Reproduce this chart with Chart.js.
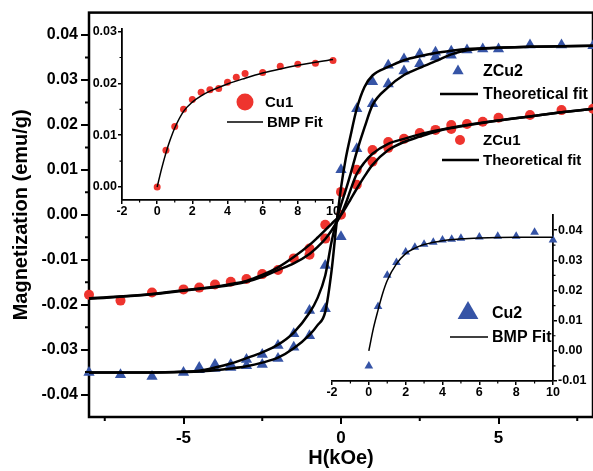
<!DOCTYPE html>
<html>
<head>
<meta charset="utf-8">
<script src="https://cdn.jsdelivr.net/npm/chart.js@4.4.0/dist/chart.umd.min.js"></script>
<style>
  html, body { margin: 0; padding: 0; background: #fff; overflow: hidden; }
  #wrap { position: relative; width: 593px; height: 471px; overflow: hidden; }
  canvas { position: absolute; }
  #main { left: 0; top: 0; }
  #inset1 { left: 85px; top: 18px; }
  #inset2 { left: 318px; top: 205px; }
</style>
</head>
<body>
<div id="wrap">
  <canvas id="main" width="600" height="471"></canvas>
  <canvas id="inset1" width="262" height="202"></canvas>
  <canvas id="inset2" width="275" height="197"></canvas>
</div>
<script>
// main panel: measured points
const zcu2H = [-8, -7, -6, -5, -4.5, -4.5, -4, -4, -3.5, -3.5, -3, -3, -2.5, -2.5, -2, -2, -1.5, -1.5, -1, -1,
  -0.5, -0.5, 0, 0, 0.5, 0.5, 1, 1, 1.5, 1.5, 2, 2, 2.5, 2.5, 3, 3, 3.5, 3.5, 4, 4.5, 5, 6, 7, 8];
const zcu2M = [-0.0351, -0.0356, -0.0360, -0.0351, -0.0340, -0.0345, -0.0333, -0.0342, -0.0333, -0.0340,
  -0.0322, -0.0336, -0.0311, -0.0333, -0.0291, -0.0320, -0.0265, -0.0295, -0.0213, -0.0269,
  -0.0113, -0.0209, -0.0049, 0.0100, 0.0147, 0.0236, 0.0247, 0.0296, 0.0291, 0.0333,
  0.0320, 0.0347, 0.0336, 0.0358, 0.0351, 0.0362, 0.0355, 0.0364, 0.0367, 0.0369, 0.0369, 0.0378, 0.0378, 0.0376];
const zcu1H = [-8, -7, -6, -5, -4.5, -4, -3.5, -3, -2.5, -2, -1.5, -1, -1, -0.5, -0.5, 0, 0, 0.5, 0.5, 1, 1,
  1.5, 1.5, 2, 2.5, 3, 3.5, 3.5, 4, 4.5, 5, 6, 7, 8];
const zcu1M = [-0.0178, -0.0191, -0.0173, -0.0166, -0.0162, -0.0155, -0.0149, -0.0143, -0.0132, -0.0123, -0.0097,
  -0.0075, -0.0089, -0.0022, -0.0053, 0.0000, 0.0051, 0.0100, 0.0067, 0.0144, 0.0118, 0.0162, 0.0149,
  0.0169, 0.0182, 0.0189, 0.0191, 0.0200, 0.0202, 0.0207, 0.0216, 0.0222, 0.0233, 0.0236];

// main panel: theoretical fit curves (two branches each)
const fitH = [-8, -6, -5, -4.5, -4, -3.5, -3, -2.5, -2, -1.5, -1, -0.75, -0.5, -0.3, -0.15, 0,
  0.15, 0.3, 0.5, 0.75, 1, 1.5, 2, 2.5, 3, 3.5, 4, 5, 6, 7, 8];
const zcu2FitA = [-0.0351, -0.0351, -0.0350, -0.0349, -0.0346, -0.0342, -0.0337, -0.0329, -0.0318, -0.0297,
  -0.0267, -0.0246, -0.0216, -0.0125, -0.0025, 0.0060,
  0.0125, 0.0175, 0.0236, 0.0285, 0.0310, 0.0329, 0.0344, 0.0353, 0.0360, 0.0365, 0.0369, 0.0372, 0.0374, 0.0375, 0.0376];
const zcu2FitB = [-0.0351, -0.0351, -0.0349, -0.0347, -0.0340, -0.0331, -0.0319, -0.0306, -0.0289, -0.0262,
  -0.0218, -0.0186, -0.0135, -0.0060, -0.0015, 0.0022,
  0.0055, 0.0090, 0.0140, 0.0195, 0.0244, 0.0284, 0.0311, 0.0327, 0.0342, 0.0357, 0.0366, 0.0372, 0.0374, 0.0375, 0.0376];
const zcu1FitA = [-0.0187, -0.0177, -0.0169, -0.0165, -0.0161, -0.0156, -0.0149, -0.0138, -0.0123, -0.0108,
  -0.0087, -0.0072, -0.0054, -0.0035, -0.0018, 0,
  0.0025, 0.0055, 0.0091, 0.0117, 0.0136, 0.0158, 0.0169, 0.0179, 0.0187, 0.0194, 0.0200, 0.0210, 0.0219, 0.0228, 0.0236];
const zcu1FitB = [-0.0186, -0.0176, -0.0168, -0.0164, -0.0160, -0.0154, -0.0147, -0.0134, -0.0117, -0.0094,
  -0.0067, -0.0051, -0.0034, -0.0020, -0.0010, 0,
  0.0016, 0.0034, 0.0058, 0.0086, 0.0111, 0.0144, 0.0162, 0.0174, 0.0185, 0.0193, 0.0199, 0.0210, 0.0219, 0.0228, 0.0236];

// inset Cu1
const cu1H = [0, 0.5, 1, 1.5, 2, 2.5, 3, 3.5, 4, 4.5, 5, 6, 7, 8, 9, 10];
const cu1M = [0, 0.0071, 0.0117, 0.0150, 0.0169, 0.0183, 0.0188, 0.0190, 0.0202, 0.0212, 0.0219, 0.0221,
  0.0233, 0.0237, 0.0239, 0.0244];
const cu1FitH = [0, 0.25, 0.5, 0.75, 1, 1.5, 2, 2.5, 3, 4, 5, 6, 7, 8, 9, 10];
const cu1FitM = [0, 0.0035, 0.0066, 0.0092, 0.0114, 0.0146, 0.0164, 0.0176, 0.0185, 0.0199, 0.0210, 0.0220,
  0.0228, 0.0235, 0.0241, 0.0246];

// inset Cu2
const cu2H = [0, 0.5, 1, 1.5, 2, 2.5, 3, 3.5, 4, 4.5, 5, 6, 7, 8, 9, 10];
const cu2M = [-0.0050, 0.0147, 0.0250, 0.0293, 0.0327, 0.0343, 0.0353, 0.0360, 0.0367, 0.0370, 0.0373, 0.0377,
  0.0380, 0.0380, 0.0393, 0.0367];
const cu2FitH = [0, 0.25, 0.5, 0.75, 1, 1.5, 2, 2.5, 3, 4, 5, 6, 8, 10];
const cu2FitM = [0, 0.0075, 0.0135, 0.0190, 0.0233, 0.0288, 0.0322, 0.0340, 0.0352, 0.0365, 0.0371, 0.0374, 0.0376, 0.0376];

// tick labels
const mainXTicks = [-5, 0, 5];
const mainYTicks = [-0.04, -0.03, -0.02, -0.01, 0, 0.01, 0.02, 0.03, 0.04];
const insetXTicks = [-2, 0, 2, 4, 6, 8, 10];
const cu1YTicks = [0, 0.01, 0.02, 0.03];
const cu2YTicks = [-0.01, 0, 0.01, 0.02, 0.03, 0.04];

const FONT = '"Liberation Sans", Arial, Helvetica, sans-serif';
const RED = 'rgb(238,52,46)';
const BLUE = 'rgb(54,84,166)';

Chart.defaults.font.family = FONT;
Chart.defaults.color = '#000';

const pts = (xs, ys) => xs.map((x, i) => ({ x: x, y: ys[i] }));

const fitLine = (xs, ys, w) => ({
  data: pts(xs, ys), showLine: true, pointRadius: 0, borderColor: '#000', borderWidth: w,
  cubicInterpolationMode: 'monotone', clip: false
});
const marks = (xs, ys, style, r, color) => ({
  data: pts(xs, ys), pointStyle: style, pointRadius: r, backgroundColor: color,
  borderColor: color, borderWidth: 0, clip: false
});

// minor ticks halfway between the library's major ticks
const minorTicks = {
  id: 'minorTicks',
  afterDraw(chart, args, opts) {
    const ctx = chart.ctx;
    ctx.save();
    ctx.strokeStyle = '#000';
    ctx.lineWidth = opts.width;
    Object.values(chart.scales).forEach(s => {
      const vals = s.ticks.map(t => t.value);
      if (vals.length < 2) return;
      const step = vals[1] - vals[0];
      const minors = [];
      for (let v = vals[0] - step / 2; v > s.min + 1e-9; v -= step) minors.push(v);
      vals.forEach(v => { if (v + step / 2 < s.max - 1e-9) minors.push(v + step / 2); });
      ctx.beginPath();
      minors.forEach(v => {
        const p = s.getPixelForValue(v);
        if (s.isHorizontal()) { ctx.moveTo(p, s.top); ctx.lineTo(p, s.top + opts.len); }
        else if (s.position === 'left') { ctx.moveTo(s.right, p); ctx.lineTo(s.right - opts.len, p); }
        else { ctx.moveTo(s.left, p); ctx.lineTo(s.left + opts.len, p); }
      });
      ctx.stroke();
    });
    ctx.restore();
  }
};

const frame = {
  id: 'frame',
  beforeDatasetsDraw(chart) {
    const { ctx, chartArea: a } = chart;
    ctx.save();
    ctx.strokeStyle = '#000';
    ctx.lineWidth = 2.5;
    ctx.strokeRect(a.left, a.top, a.right - a.left, a.bottom - a.top);
    ctx.restore();
  }
};

// hand-placed legends (page coordinates, drawn on the main canvas)
const legends = {
  id: 'legends',
  afterDraw(chart, args, opts) {
    const ctx = chart.ctx;
    ctx.save();
    ctx.textAlign = 'left';
    ctx.textBaseline = 'middle';
    opts.items.forEach(it => {
      ctx.fillStyle = it.color || '#000';
      ctx.strokeStyle = '#000';
      if (it.kind === 'circle') {
        ctx.beginPath(); ctx.arc(it.x, it.y, it.r, 0, Math.PI * 2); ctx.fill();
      } else if (it.kind === 'tri') {
        ctx.beginPath();
        for (let k = 0; k < 3; k++) {
          const a = k * 2 * Math.PI / 3;
          ctx[k ? 'lineTo' : 'moveTo'](it.x + Math.sin(a) * it.r, it.y - Math.cos(a) * it.r);
        }
        ctx.closePath(); ctx.fill();
      } else if (it.kind === 'line') {
        ctx.lineWidth = it.w;
        ctx.beginPath(); ctx.moveTo(it.x, it.y); ctx.lineTo(it.x2, it.y); ctx.stroke();
      }
      ctx.fillStyle = '#000';
      ctx.font = 'bold ' + it.size + 'px ' + FONT;
      ctx.fillText(it.text, it.tx, it.y + 1);
    });
    ctx.restore();
  }
};

const axisBase = (ticks, fmt, fontSize, tl, lw, pad) => ({
  type: 'linear',
  afterBuildTicks: s => { s.ticks = ticks.map(v => ({ value: v })); },
  ticks: { callback: fmt, font: { size: fontSize, weight: 'bold' }, color: '#000', padding: pad },
  grid: { drawOnChartArea: false, drawTicks: true, tickLength: tl, color: '#000', lineWidth: lw }
});

const common = {
  responsive: false,
  animation: false,
  events: [],
  plugins: { legend: { display: false }, tooltip: { enabled: false } }
};

new Chart(document.getElementById('main'), {
  type: 'scatter',
  data: {
    datasets: [
      fitLine(fitH, zcu2FitA, 2.5),
      fitLine(fitH, zcu2FitB, 2.5),
      fitLine(fitH, zcu1FitA, 2.5),
      fitLine(fitH, zcu1FitB, 2.5),
      marks(zcu2H, zcu2M, 'triangle', 6.5, BLUE),
      marks(zcu1H, zcu1M, 'circle', 5, RED)
    ]
  },
  options: {
    ...common,
    layout: { padding: { left: 0, top: 12, right: 7, bottom: 0 } },
    plugins: {
      ...common.plugins,
      minorTicks: { len: 4, width: 2 },
      legends: {
        items: [
          { kind: 'tri', x: 458, y: 71, r: 6.5, color: BLUE, text: 'ZCu2', tx: 483, size: 16 },
          { kind: 'line', x: 440, x2: 478, y: 94, w: 2.5, text: 'Theoretical fit', tx: 483, size: 16 },
          { kind: 'circle', x: 460, y: 140, r: 5, color: RED, text: 'ZCu1', tx: 483, size: 15 },
          { kind: 'line', x: 442, x2: 479, y: 160, w: 2.5, text: 'Theoretical fit', tx: 483, size: 15 },
          { kind: 'circle', x: 245, y: 102, r: 8.5, color: RED, text: 'Cu1', tx: 265, size: 15 },
          { kind: 'line', x: 227, x2: 263, y: 122, w: 1.5, text: 'BMP Fit', tx: 267, size: 15 },
          { kind: 'tri', x: 468, y: 313, r: 12, color: BLUE, text: 'Cu2', tx: 492, size: 16 },
          { kind: 'line', x: 450, x2: 488, y: 337, w: 1.5, text: 'BMP Fit', tx: 492, size: 16 }
        ]
      }
    },
    scales: {
      x: {
        ...axisBase(mainXTicks, v => String(v), 17, 7, 2, 4),
        position: 'bottom', min: -8, max: 8,
        afterFit: s => { s.height = 54; },
        border: { display: false },
        title: { display: true, text: 'H(kOe)', font: { size: 20, weight: 'bold' }, color: '#000', padding: { top: 0, bottom: 1 } }
      },
      y: {
        ...axisBase(mainYTicks, v => v.toFixed(2), 16, 8, 2, 3),
        position: 'left', min: -0.045, max: 0.045,
        afterFit: s => { s.width = 89; },
        border: { display: false },
        title: { display: true, text: 'Magnetization (emu/g)', font: { size: 20, weight: 'bold' }, color: '#000', padding: { top: 9, bottom: 0 } }
      }
    }
  },
  plugins: [frame, minorTicks, legends]
});

new Chart(document.getElementById('inset1'), {
  type: 'scatter',
  data: {
    datasets: [
      fitLine(cu1FitH, cu1FitM, 1.5),
      marks(cu1H, cu1M, 'circle', 3.5, RED)
    ]
  },
  options: {
    ...common,
    layout: { padding: { left: 0, top: 11, right: 14, bottom: 0 } },
    plugins: { ...common.plugins, minorTicks: { len: 2.5, width: 1.2 } },
    scales: {
      x: {
        ...axisBase(insetXTicks, v => String(v), 12.5, 4, 1.5, 0),
        position: 'bottom', min: -2, max: 10,
        afterFit: s => { s.height = 20; },
        border: { display: true, color: '#000', width: 1.8 }
      },
      y: {
        ...axisBase(cu1YTicks, v => v.toFixed(2), 12.5, 4, 1.5, 1),
        position: 'left', min: -0.0025, max: 0.0305,
        afterFit: s => { s.width = 37; },
        border: { display: true, color: '#000', width: 1.8 }
      }
    }
  },
  plugins: [minorTicks]
});

new Chart(document.getElementById('inset2'), {
  type: 'scatter',
  data: {
    datasets: [
      fitLine(cu2FitH, cu2FitM, 1.5),
      marks(cu2H, cu2M, 'triangle', 5, BLUE)
    ]
  },
  options: {
    ...common,
    layout: { padding: { left: 14, top: 10, right: 0, bottom: 0 } },
    plugins: { ...common.plugins, minorTicks: { len: 2.5, width: 1.2 } },
    scales: {
      x: {
        ...axisBase(insetXTicks, v => String(v), 12.5, 4, 1.5, 0),
        position: 'bottom', min: -2, max: 10,
        afterFit: s => { s.height = 21; },
        border: { display: true, color: '#000', width: 1.8 }
      },
      y: {
        ...axisBase(cu2YTicks, v => v.toFixed(2), 12.5, 4, 1.5, 1),
        position: 'right', min: -0.01, max: 0.045,
        afterFit: s => { s.width = 40; },
        border: { display: true, color: '#000', width: 1.8 }
      }
    }
  },
  plugins: [minorTicks]
});
</script>
</body>
</html>
